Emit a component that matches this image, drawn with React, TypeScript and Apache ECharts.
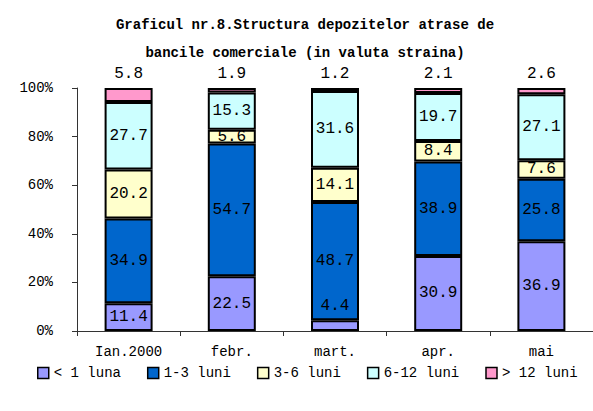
import React, { useEffect, useRef } from "react";
import * as echarts from "echarts";

const categories = ["Ian.2000", "febr.", "mart.", "apr.", "mai"];
const seriesNames = ["< 1 luna", "1-3 luni", "3-6 luni", "6-12 luni", "> 12 luni"];
const lessThan1 = [11.4, 22.5, 4.4, 30.9, 36.9];
const from1to3 = [34.9, 54.7, 48.7, 38.9, 25.8];
const from3to6 = [20.2, 5.6, 14.1, 8.4, 7.6];
const from6to12 = [27.7, 15.3, 31.6, 19.7, 27.1];
const over12 = [5.8, 1.9, 1.2, 2.1, 2.6];
const yTicks = [0, 20, 40, 60, 80, 100];
const colors = ["#9999FF", "#0066CC", "#FFFFCC", "#CCFFFF", "#FF99CC"];

const FONT = "'Liberation Mono', 'Courier New', monospace";

export default function App() {
  const ref = useRef<HTMLDivElement>(null);
  useEffect(() => {
    if (!ref.current) return;
    const chart = echarts.init(ref.current, null, { renderer: "svg" });
    const all = [lessThan1, from1to3, from3to6, from6to12, over12];
    const labelBase = {
      show: true,
      color: "#000",
      fontFamily: FONT,
      fontSize: 16,
      formatter: (p: any) => String(p.value),
    };
    const series = all.map((vals, i) => ({
      name: seriesNames[i],
      type: "bar",
      stack: "total",
      barWidth: 48,
      itemStyle: { color: colors[i], borderColor: "#000", borderWidth: 2 },
      label:
        i === 4
          ? { ...labelBase, position: "top", distance: 6 }
          : { ...labelBase, position: "inside" },
      data: vals.map((v) =>
        i === 0 && v < 6
          ? { value: v, label: { position: "top", distance: 6 } }
          : v
      ),
    }));
    chart.setOption({
      animation: false,
      color: colors,
      title: {
        text: "Graficul nr.8.Structura depozitelor atrase de\nbancile comerciale (in valuta straina)",
        left: 300,
        textAlign: "center",
        top: 6,
        textStyle: {
          fontFamily: FONT,
          fontWeight: "bold",
          fontSize: 14,
          lineHeight: 28,
          color: "#000",
        },
      },
      legend: {
        top: 366,
        left: 37,
        width: 556,
        padding: 0,
        itemWidth: 11,
        itemHeight: 11,
        itemGap: 26,
        icon: "rect",
        itemStyle: { borderColor: "#000", borderWidth: 1.5 },
        textStyle: { fontFamily: FONT, fontSize: 14, color: "#000" },
        data: seriesNames,
      },
      grid: { left: 77, right: -4, top: 88, bottom: 80 },
      xAxis: {
        type: "category",
        data: categories,
        axisLine: { lineStyle: { color: "#333", width: 1 } },
        axisTick: { show: true, length: 5, lineStyle: { color: "#333" } },
        axisLabel: { fontFamily: FONT, fontSize: 14, color: "#000", margin: 14 },
      },
      yAxis: {
        type: "value",
        min: yTicks[0],
        max: yTicks[yTicks.length - 1],
        interval: 20,
        splitLine: { show: false },
        axisLine: { show: true, lineStyle: { color: "#333", width: 1 } },
        axisTick: { show: true, length: 5, lineStyle: { color: "#333" } },
        axisLabel: {
          fontFamily: FONT,
          fontSize: 14,
          color: "#000",
          margin: 24,
          formatter: (v: number) => v + "%",
        },
      },
      series,
    });
    return () => chart.dispose();
  }, []);
  return <div ref={ref} style={{ width: 593, height: 411, position: "absolute", left: 0, top: 0 }} />;
}
